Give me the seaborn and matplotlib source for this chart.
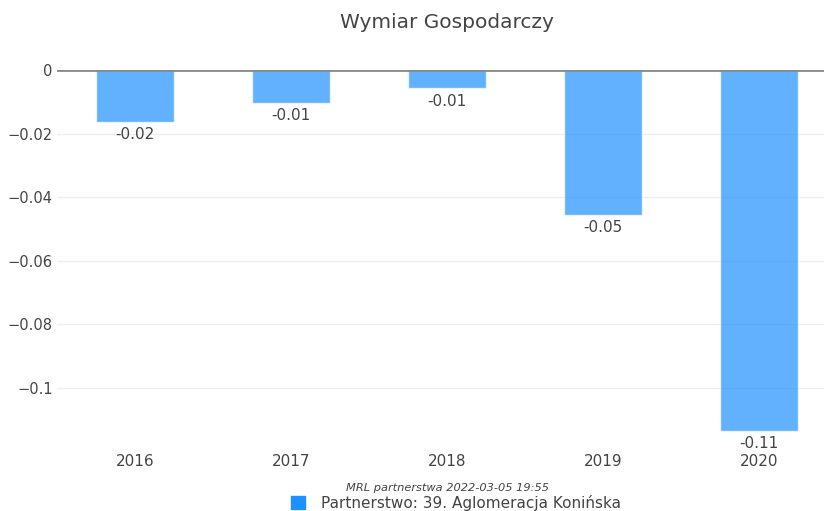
import matplotlib
matplotlib.use("Agg")
import matplotlib.pyplot as plt
import seaborn as sns
from matplotlib.patches import Patch

years = ['2016', '2017', '2018', '2019', '2020']
values = [-0.0163, -0.0103, -0.0058, -0.0455, -0.1136]
labels = ['-0.02', '-0.01', '-0.01', '-0.05', '-0.11']
series_name = 'Partnerstwo: 39. Aglomeracja Konińska'

sns.set_style("white")
plt.rcParams['font.family'] = ['DejaVu Sans']

fig = plt.figure(figsize=(8.24, 5.11), dpi=100)
# plot area runs past the right edge, like the cropped original
ax = fig.add_axes([57/824, 1-450/511, 780/824, 380/511])

sns.barplot(x=years, y=values, color='#1e90ff', alpha=0.7, width=0.5,
            saturation=1, ax=ax)

ax.set_xlim(-0.5, 4.5)
ax.set_ylim(-0.1196, 0)
ax.set_yticks([0, -0.02, -0.04, -0.06, -0.08, -0.1])
ax.set_yticklabels(['0', '\u22120.02', '\u22120.04', '\u22120.06', '\u22120.08', '\u22120.1'])
ax.grid(axis='y', color='#eeeeee', linewidth=1)
ax.set_axisbelow(True)
ax.axhline(0, color='#8a8a8a', linewidth=2, zorder=3)
for s in ax.spines.values():
    s.set_visible(False)
ax.tick_params(axis='y', length=0, labelsize=10.5, colors='#444444', pad=3)
ax.tick_params(axis='x', length=0, labelsize=11, colors='#444444', pad=3)

ax.bar_label(ax.containers[0], labels=labels, padding=4, fontsize=11, color='#444444')

fig.text(447/824, 1-22/511, 'Wymiar Gospodarczy', ha='center', va='center',
         fontsize=14.5, color='#444444')
fig.text(447/824, 1-488/511, 'MRL partnerstwa 2022-03-05 19:55', ha='center', va='center',
         fontsize=8.2, style='italic', color='#444444')
fig.legend(handles=[Patch(color='#1e90ff', label=series_name)], loc='center',
           bbox_to_anchor=(456/824, 1-503/511), frameon=False, fontsize=11,
           handlelength=0.9, handleheight=0.9, handletextpad=1.0, labelcolor='#444444')

fig.savefig('out.png', dpi=100)
